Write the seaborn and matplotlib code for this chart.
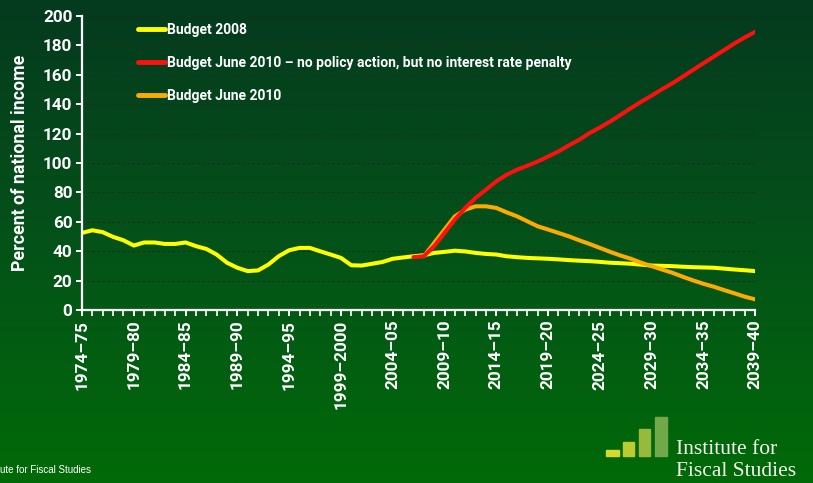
import numpy as np
import pandas as pd
import matplotlib
matplotlib.use("Agg")
import matplotlib.pyplot as plt
from matplotlib.patches import Rectangle
from matplotlib.lines import Line2D
from matplotlib.colors import LinearSegmentedColormap
import seaborn as sns

# ---- data: public sector net debt, percent of national income ----
years = list(range(1974, 2040))
tick_years = list(range(1974, 2040, 5))
tick_labels = ["1974\u201375", "1979\u201380", "1984\u201385", "1989\u201390",
               "1994\u201395", "1999\u20132000", "2004\u201305", "2009\u201310",
               "2014\u201315", "2019\u201320", "2024\u201325", "2029\u201330",
               "2034\u201335", "2039\u201340"]

budget_2008 = [52.5, 54.3, 53.0, 49.8, 47.5, 43.9, 46.0, 46.0, 45.0, 45.0,
               46.0, 43.5, 41.6, 37.8, 32.2, 28.8, 26.5, 27.0, 31.0, 36.7,
               40.7, 42.3, 42.3, 40.0, 37.8, 35.5, 30.5, 30.3, 31.5, 32.7,
               34.9, 35.8, 36.6, 37.3, 38.9, 39.6, 40.4, 39.9, 38.9, 38.2,
               37.8, 36.6, 36.0, 35.5, 35.2, 34.9, 34.5, 34.0, 33.6, 33.3,
               32.8, 32.2, 31.9, 31.5, 30.9, 30.3, 30.1, 29.9, 29.5, 29.2,
               29.0, 28.8, 28.2, 27.6, 27.1, 26.5]

no_action_years = list(range(2006, 2040))
no_action = [36.0, 36.6, 43.4, 52.5, 61.6, 69.5, 76.3, 81.9, 87.6, 92.1,
             95.5, 98.2, 101.1, 104.5, 107.9, 112.0, 115.8, 120.4, 124.2, 128.3,
             132.8, 137.4, 141.8, 145.9, 150.2, 154.3, 158.8, 163.4, 167.9, 172.4,
             176.9, 181.4, 185.5, 189.3]

june_2010_years = list(range(2007, 2040))
june_2010 = [36.6, 45.7, 54.8, 63.8, 68.3, 70.6, 70.6, 69.5, 66.5, 63.8,
             60.4, 57.0, 54.8, 52.5, 50.2, 47.5, 45.0, 42.3, 39.6, 37.1,
             34.9, 32.2, 29.9, 27.6, 25.4, 22.7, 20.2, 17.9, 15.9, 13.6,
             11.4, 9.1, 7.3]

series_names = ["Budget 2008",
                "Budget June 2010 \u2013 no policy action, but no interest rate penalty",
                "Budget June 2010"]
series_colors = ["#ffff00", "#ff1010", "#ffaa00"]

df = pd.concat([
    pd.DataFrame({"year": years, "value": budget_2008, "series": series_names[0]}),
    pd.DataFrame({"year": june_2010_years, "value": june_2010, "series": series_names[2]}),
    pd.DataFrame({"year": no_action_years, "value": no_action, "series": series_names[1]}),
])

sns.set_theme(style="white")
plt.rcParams["font.family"] = ["Roboto", "DejaVu Sans"]

fig = plt.figure(figsize=(8.13, 4.83), dpi=100)

# vertical green gradient behind everything
bg = fig.add_axes([0, 0, 1, 1], zorder=-10)
grad_cmap = LinearSegmentedColormap.from_list(
    "bg", ["#053a1f", "#045219", "#016a08"])
bg.imshow(np.linspace(0, 1, 256).reshape(-1, 1), aspect="auto",
          cmap=grad_cmap, extent=[0, 1, 0, 1], origin="upper")
bg.set_axis_off()

ax = fig.add_axes([0.1009, 0.358, 0.828, 0.6087])
ax.set_facecolor("none")

palette = dict(zip(series_names, series_colors))
sns.lineplot(data=df, x="year", y="value", hue="series", palette=palette,
             hue_order=[series_names[0], series_names[2], series_names[1]],
             linewidth=2.9, ax=ax, legend=False, solid_capstyle="round")

ax.set_xlim(1974, 2039)
ax.set_ylim(0, 200)
ax.set_yticks(range(0, 201, 20))
ax.set_xticks(years, minor=True)
ax.set_xticks(tick_years)
ax.set_xticklabels(tick_labels, rotation=90)

for y in range(20, 201, 20):
    ax.axhline(y, color="#143616", linewidth=0.9, linestyle=(0, (2, 2)), zorder=0)

for side in ["top", "right"]:
    ax.spines[side].set_visible(False)
for side in ["left", "bottom"]:
    ax.spines[side].set_color("white")
    ax.spines[side].set_linewidth(1.6)

ax.tick_params(axis="both", which="both", colors="white", direction="out",
               length=4, width=1.4, labelsize=12.3)
ax.tick_params(axis="x", which="minor", length=4, width=1.2, bottom=True)
ax.tick_params(axis="x", which="major", bottom=True, pad=3)
ax.tick_params(axis="y", left=True, pad=3)
for lbl in ax.get_xticklabels() + ax.get_yticklabels():
    lbl.set_fontweight("bold")
    lbl.set_color("white")

ax.set_xlabel("")
ax.set_ylabel("Percent of national income", color="white", fontsize=12.8,
              fontweight="bold", labelpad=10)

handles = [Line2D([], [], color=c, linewidth=3.5) for c in series_colors]
leg = ax.legend(handles, series_names, loc="upper left",
                bbox_to_anchor=(0.064, 1.02), frameon=False, fontsize=10,
                handlelength=2.0, handletextpad=0.1, labelspacing=1.37)
for t in leg.get_texts():
    t.set_color("white")
    t.set_fontweight("bold")

# logo block, bottom right
W, H = 813.0, 483.0
bars = [(606, 450, 13, 6, "#d6da2c"), (623, 442, 11, 14, "#bccb30"),
        (639, 429, 11, 27, "#98b93c"), (655, 417, 12, 39, "#70a84a")]
for x0, y0, w, h, c in bars:
    fig.patches.append(Rectangle((x0 / W, 1 - (y0 + h) / H), w / W, h / H,
                                 transform=fig.transFigure, color=c, zorder=5))
fig.text(676 / W, 1 - 454 / H, "Institute for", color="#f4f4ec",
         fontsize=15.5, family="Liberation Serif", va="baseline", ha="left")
fig.text(676 / W, 1 - 476 / H, "Fiscal Studies", color="#f4f4ec",
         fontsize=15.5, family="Liberation Serif", va="baseline", ha="left")

fig.text(0.0, 1 - 473 / H, "ute for Fiscal Studies", color="white",
         fontsize=7, family="Liberation Sans", va="baseline", ha="left")

fig.savefig("out.png", dpi=100)
